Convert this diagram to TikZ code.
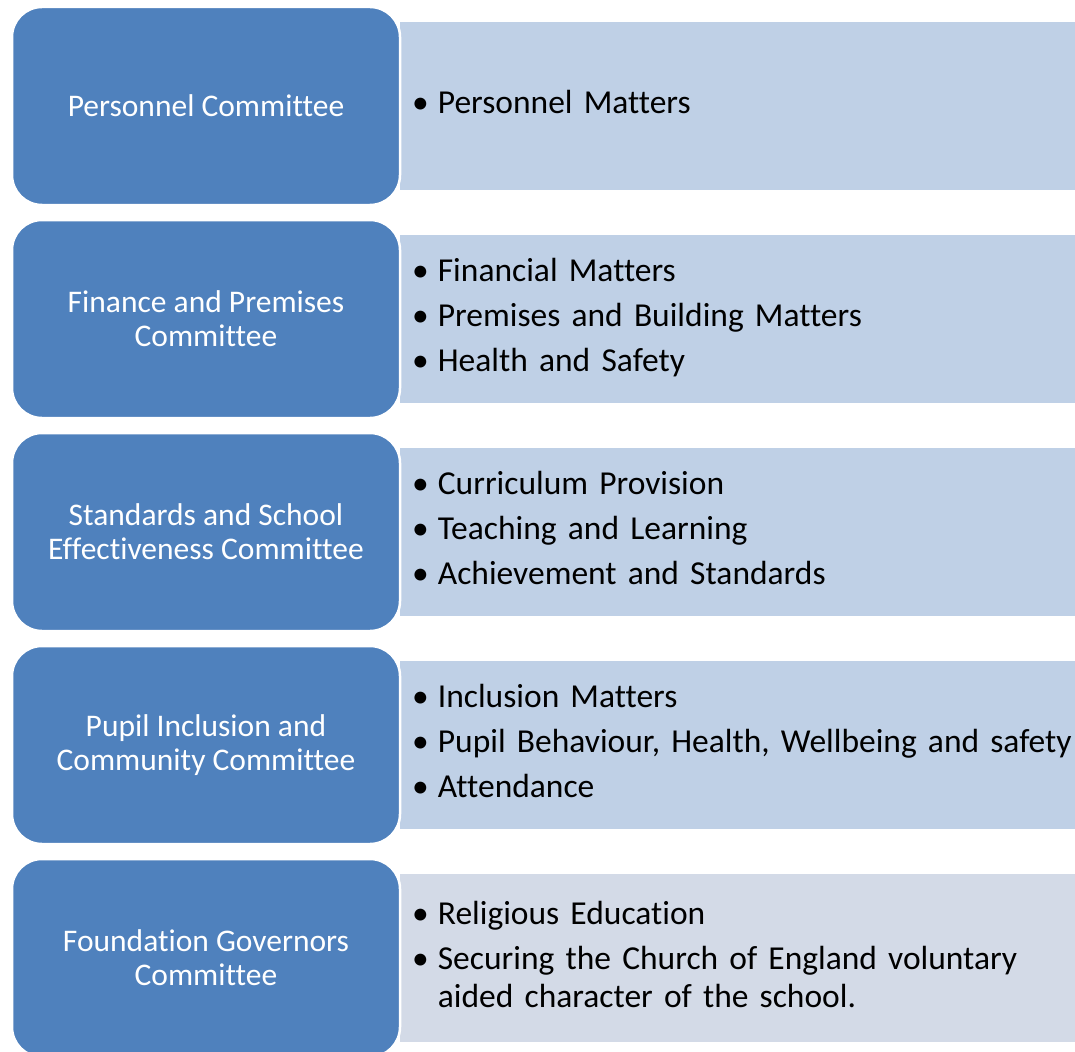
\documentclass[tikz,border=0pt]{standalone}
\usepackage{fontspec}
\setmainfont{Carlito}[Ligatures=NoCommon]
\definecolor{comblue}{HTML}{4F81BD}
\definecolor{dutyblue}{HTML}{BFD0E6}
\definecolor{dutygrey}{HTML}{D3DAE7}
\newcommand{\dutylist}[1]{\begin{tabular}{@{}l@{\hspace{9pt}}l@{}}#1\end{tabular}}
\begin{document}
\begin{tikzpicture}[x=1pt,y=-1pt,
  committee/.style={rounded corners=30pt,fill=comblue,draw=white,line width=2.5pt,
    minimum width=388pt,minimum height=198pt,inner sep=0pt,text=white,align=center,
    font=\fontsize{31.5}{34}\selectfont},
  duties/.style={fill=dutyblue,anchor=west,minimum height=168pt,text width=651pt,
    inner xsep=12pt,inner ysep=0pt,align=left,font=\fontsize{33.5}{38}\selectfont}]
\useasboundingbox (0,0) rectangle (1075,1051);
\clip (0,0) rectangle (1075,1051);
% duty boxes
\node[duties] (duty1) at (400,106) {\dutylist{\textbullet & Personnel Matters}};
\node[duties] (duty2) at (400,319) {\dutylist{\textbullet & Financial Matters\\[7pt]
  \textbullet & Premises and Building Matters\\[7pt] \textbullet & Health and Safety}};
\node[duties] (duty3) at (400,532) {\dutylist{\textbullet & Curriculum Provision\\[7pt]
  \textbullet & Teaching and Learning\\[7pt] \textbullet & Achievement and Standards}};
\node[duties] (duty4) at (400,745) {\dutylist{\textbullet & Inclusion Matters\\[7pt]
  \textbullet & Pupil Behaviour, Health, Wellbeing and safety\\[7pt] \textbullet & Attendance}};
\node[duties,fill=dutygrey] (duty5) at (400,958) {\dutylist{\textbullet & Religious Education\\[7pt]
  \textbullet & Securing the Church of England voluntary\\ & aided character of the school.}};
% committees
\node[committee] (com1) at (206,106) {Personnel Committee};
\node[committee] (com2) at (206,319) {Finance and Premises\\Committee};
\node[committee] (com3) at (206,532) {Standards and School\\Effectiveness Committee};
\node[committee] (com4) at (206,745) {Pupil Inclusion and\\Community Committee};
\node[committee] (com5) at (206,958) {Foundation Governors\\Committee};
\end{tikzpicture}
\end{document}
